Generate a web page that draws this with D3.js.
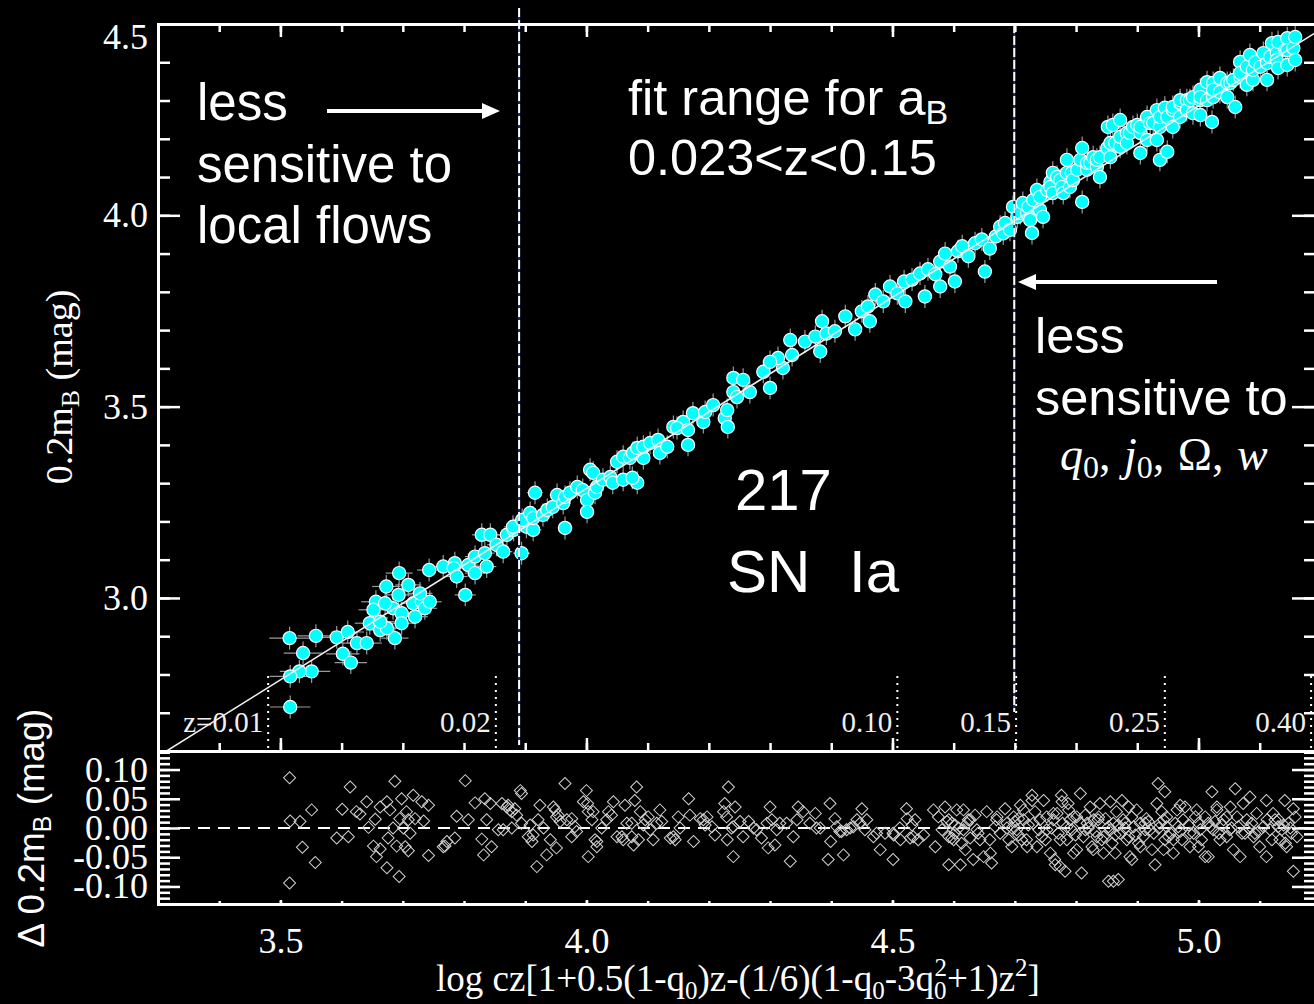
<!DOCTYPE html>
<html><head><meta charset="utf-8">
<script src="https://cdn.jsdelivr.net/npm/d3@7"></script>
<style>html,body{margin:0;padding:0;background:#000;}svg{display:block}</style>
</head><body>
<svg id="c" width="1314" height="1004"></svg>
<script>
// ---------------- DATA ----------------
const aB = 0.714;                 // intercept of fitted line 0.2mB = logcz - aB
const magErr = 0.03;              // typical error bar in 0.2 mB
const pecVel = 250;               // km/s, horizontal error for low-z objects

// Hubble diagram (top panel): [log cz, 0.2 mB]
const hubbleLowZ = [
[3.515,2.895],[3.558,2.901],[3.537,2.856],[3.551,2.808],[3.531,2.808],[3.516,2.795],[3.516,2.715],[3.592,2.897],
[3.610,2.911],[3.602,2.854],[3.615,2.831],[3.625,2.882],[3.641,2.882],[3.646,2.934],[3.656,2.990],[3.652,2.969],
[3.663,2.916],[3.673,3.030],[3.694,3.065],[3.693,3.008],[3.709,3.034],[3.684,2.973],[3.671,2.986],[3.698,2.960],
[3.698,2.934],[3.687,2.895],[3.674,2.921],[3.663,2.938],[3.717,2.986],[3.720,2.951],[3.731,2.990],[3.736,2.973],
[3.744,2.990],[3.728,3.012],[3.743,3.073],[3.766,3.082],[3.785,3.091],[3.783,3.078],[3.802,3.008],[3.788,3.056],
[3.807,3.086],[3.818,3.065],[3.818,3.108],[3.837,3.082],[3.834,3.117],[3.829,3.165],[3.843,3.165],[3.853,3.139],
[3.864,3.121],[3.870,3.165],[3.881,3.178]
];
const hubbleMidZ = [
[3.894,3.117],[3.902,3.186],[3.913,3.178],[3.880,3.186],[3.895,3.204],[3.908,3.222],[3.913,3.209],[3.916,3.275],
[3.929,3.217],[3.936,3.230],[3.945,3.238],[3.952,3.269],[3.962,3.248],[3.965,3.264],[3.965,3.183],[3.973,3.275],
[3.985,3.290],[3.994,3.282],[4.001,3.256],[4.001,3.225],[4.014,3.275],[4.017,3.290],[4.006,3.335],[4.011,3.327],
[4.027,3.309],[4.039,3.316],[4.043,3.301],[4.060,3.309],[4.083,3.301],[4.075,3.314],[4.050,3.356],[4.060,3.369],
[4.071,3.366],[4.093,3.366],[4.076,3.379],[4.083,3.392],[4.093,3.395],[4.104,3.405],[4.120,3.379],[4.117,3.413],
[4.132,3.395],[4.158,3.460],[4.142,3.447],[4.148,3.444],[4.166,3.400],[4.166,3.439],[4.174,3.483],[4.191,3.460],
[4.194,3.486],[4.207,3.504],[4.240,3.538],[4.226,3.470],[4.231,3.447],[4.230,3.491],[4.246,3.525],[4.240,3.575],
[4.256,3.570],[4.267,3.538],[4.300,3.549],[4.289,3.591],[4.321,3.601],[4.336,3.635],[4.313,3.627],[4.300,3.617],
[4.333,3.674],[4.357,3.670],[4.374,3.683],[4.385,3.723],[4.392,3.691],[4.406,3.697],[4.382,3.644],[4.423,3.736],
[4.439,3.702],[4.450,3.749],[4.460,3.762],[4.463,3.723],[4.472,3.793],[4.485,3.775],[4.496,3.814],[4.508,3.796],
[4.519,3.827],[4.521,3.775],[4.532,3.832],[4.545,3.848],[4.553,3.788],[4.558,3.859],[4.570,3.846],[4.578,3.879],
[4.578,3.814],[4.586,3.900],[4.594,3.866],[4.602,3.827],[4.607,3.906],[4.614,3.919],[4.624,3.893],[4.635,3.927],
[4.646,3.937],[4.651,3.853],[4.659,3.913],[4.669,3.945],[4.676,3.970],[4.681,3.953],[4.684,3.980],[4.692,3.962]
];
const hubbleHighZ = [
[4.697,4.022],[4.704,3.996],[4.709,4.006],[4.713,4.032],[4.720,4.006],[4.722,4.022],[4.725,3.988],[4.728,3.954],
[4.730,4.040],[4.736,4.066],[4.741,4.048],[4.741,4.014],[4.746,3.996],[4.753,4.066],[4.758,4.087],[4.758,4.074],
[4.762,4.111],[4.762,4.058],[4.769,4.100],[4.774,4.092],[4.777,4.074],[4.779,4.058],[4.785,4.145],[4.785,4.111],
[4.790,4.074],[4.793,4.111],[4.795,4.092],[4.802,4.119],[4.807,4.145],[4.810,4.176],[4.810,4.035],[4.818,4.119],
[4.818,4.137],[4.823,4.137],[4.828,4.152],[4.834,4.126],[4.834,4.145],[4.839,4.152],[4.839,4.100],[4.851,4.176],
[4.852,4.231],[4.856,4.152],[4.856,4.189],[4.860,4.236],[4.864,4.189],[4.872,4.249],[4.872,4.179],[4.872,4.205],
[4.883,4.215],[4.883,4.189],[4.888,4.215],[4.893,4.231],[4.900,4.236],[4.905,4.215],[4.905,4.163],[4.905,4.231],
[4.916,4.257],[4.916,4.197],[4.921,4.241],[4.926,4.241],[4.932,4.275],[4.932,4.197],[4.937,4.231],[4.937,4.145],
[4.937,4.257],[4.945,4.281],[4.949,4.257],[4.949,4.166],[4.958,4.275],[4.958,4.231],[4.958,4.283],[4.970,4.294],
[4.970,4.257],[4.970,4.301],[4.981,4.301],[4.981,4.275],[4.986,4.301],[4.991,4.309],[4.991,4.267],[5.003,4.328],
[5.003,4.301],[5.003,4.262],[5.003,4.309],[5.014,4.348],[5.014,4.301],[5.022,4.244],[5.024,4.346],[5.024,4.309],
[5.024,4.328],[5.035,4.359],[5.035,4.322],[5.047,4.346],[5.047,4.309],[5.052,4.346],[5.057,4.354],[5.060,4.283],
[5.068,4.401],[5.068,4.362],[5.068,4.372],[5.079,4.388],[5.079,4.341],[5.084,4.419],[5.089,4.354],[5.089,4.380],
[5.093,4.401],[5.101,4.388],[5.106,4.424],[5.112,4.354],[5.112,4.398],[5.117,4.414],[5.120,4.450],[5.128,4.424],
[5.128,4.406],[5.130,4.453],[5.130,4.385],[5.142,4.432],[5.145,4.463],[5.145,4.393],[5.145,4.432],[5.155,4.437],
[5.158,4.466],[5.158,4.406]
];

// Residual panel: log cz and Δ 0.2mB
const logcz = [
3.515,3.551,3.516,3.532,3.536,3.557,3.515,3.614,3.601,3.624,3.641,3.630,3.592,3.611,3.644,3.655,3.663,3.674,3.679,3.687,
3.698,3.717,3.731,3.742,3.706,3.720,3.734,3.695,3.709,3.684,3.701,3.712,3.676,3.690,3.704,3.709,3.652,3.663,3.657,3.674,
3.694,3.742,3.766,3.772,
3.802,3.769,3.785,3.788,3.807,3.818,3.834,3.843,3.837,3.829,3.832,3.845,3.856,3.862,3.870,3.875,3.883,3.892,3.894,3.878,
3.894,3.905,3.911,3.919,3.924,3.921,3.935,3.949,3.954,3.951,3.941,3.965,3.968,3.976,3.981,4.000,4.002,4.003,4.011,4.014,
4.017,4.025,4.036,4.044,4.050,4.060,4.063,4.074,4.077,4.082,4.079,4.088,4.096,4.104,4.109,4.120,4.123,4.137,4.145,4.150,
4.167,4.169,4.175,4.191,4.194,4.210,4.232,4.226,4.243,4.229,4.237,4.230,4.240,4.256,4.265,4.278,4.286,4.300,4.303,4.297,
4.308,4.316,4.333,4.338,4.346,4.354,4.374,4.376,4.398,4.406,4.399,4.395,4.420,4.414,4.425,4.436,4.450,4.458,4.447,4.474,
4.480,
4.523,4.501,4.501,4.512,4.529,4.537,4.542,4.567,4.586,4.570,4.581,4.592,4.597,4.602,4.611,4.616,4.619,4.627,4.632,4.640,
4.649,4.654,4.662,4.659,4.670,4.684,4.687,4.695,4.706,4.714,4.719,4.728,4.730,4.736,4.747,4.752,4.758,4.763,4.765,4.776,
4.778,4.774,4.785,4.787,4.796,4.807,4.809,4.801,4.815,4.823,4.828,4.836,4.839,4.845,4.853,4.861,4.869,4.856,4.861,4.864,
4.875,4.880,4.886,4.891,4.899,4.905,4.913,4.921,4.929,4.934,4.945,4.932,4.940,4.948,4.943,4.959,4.970,4.975,4.986,4.997,
5.000,5.011,5.022,5.016,5.030,5.035,5.046,5.051,5.060,5.068,5.073,5.079,5.084,5.092,5.100,5.111,5.111,5.122,5.130,5.133,
5.141,5.155,5.152,5.155,5.144
];
const resid = [
0.086,0.031,0.012,0.011,-0.033,-0.059,-0.094,0.070,0.032,0.028,0.045,0.024,-0.017,-0.015,0.001,0.015,0.036,0.045,0.031,0.080,
0.050,0.056,0.045,0.039,0.028,0.016,0.012,0.016,0.014,0.000,0.000,-0.009,-0.017,-0.031,-0.032,-0.039,-0.031,-0.036,-0.049,-0.068,
-0.083,-0.047,-0.032,-0.023,
0.081,-0.031,-0.017,0.020,0.014,0.043,0.050,0.042,0.014,-0.019,-0.046,-0.032,-0.003,0.042,0.036,0.031,0.033,0.064,0.059,0.000,
0.008,-0.015,-0.023,-0.066,0.039,0.014,-0.046,0.031,0.022,-0.034,-0.020,0.076,0.014,-0.015,0.002,0.064,0.042,-0.049,0.028,-0.020,
-0.032,0.000,0.028,0.045,-0.015,-0.020,0.039,0.008,-0.029,0.070,0.047,0.028,0.014,-0.003,-0.020,0.031,0.011,-0.017,-0.020,0.019,
0.050,0.022,-0.023,0.014,0.005,-0.012,0.070,0.042,0.036,0.019,0.000,-0.020,-0.049,-0.015,0.011,-0.003,-0.017,0.036,0.014,-0.034,
-0.029,0.008,-0.057,-0.015,0.036,0.028,0.025,0.000,0.042,0.016,-0.023,-0.054,-0.046,-0.006,-0.003,0.002,0.033,0.014,0.008,-0.009,
-0.037,
0.033,-0.054,-0.009,0.000,-0.017,0.014,-0.020,0.031,0.036,-0.032,-0.003,-0.063,-0.017,0.005,-0.063,0.031,-0.037,0.014,-0.054,-0.009,
-0.049,0.028,-0.060,-0.020,0.014,0.033,0.000,-0.032,0.016,0.031,-0.020,0.056,0.008,-0.032,0.047,-0.003,-0.043,0.025,-0.054,0.056,
0.008,-0.066,-0.020,0.042,0.019,0.059,-0.077,-0.037,-0.003,0.036,-0.037,0.014,0.042,-0.015,-0.091,-0.091,-0.088,0.045,0.008,-0.043,
0.047,0.008,-0.015,-0.054,0.031,-0.032,0.008,-0.003,-0.063,0.076,0.062,0.042,0.028,0.002,-0.037,-0.020,0.039,0.014,-0.009,0.031,
-0.032,-0.049,0.062,0.008,0.036,-0.020,0.019,-0.003,0.067,-0.049,0.042,0.014,0.053,-0.009,-0.032,0.047,-0.049,0.025,0.002,-0.020,
0.047,0.033,-0.009,-0.074,-0.032
];
// further residuals read from the crowded parts of the lower panel: [log cz, Δ]
const moreResid = [
[3.872,0.039],[3.878,0.028],[3.886,0.022],[3.864,-0.003],[3.908,0.005],[3.913,-0.012],[3.930,0.000],[3.946,0.036],
[3.951,0.019],[3.957,0.011],[3.976,0.016],[3.984,-0.006],[3.995,0.045],[4.003,0.028],[4.009,0.014],[4.017,-0.023],
[4.033,0.014],[4.041,0.022],[4.058,-0.015],[4.066,0.008],[4.074,-0.015],[4.085,-0.020],[4.093,0.005],[4.101,0.019],
[4.115,0.008],[4.142,-0.015],[4.153,0.000],[4.186,0.016],[4.197,0.019],[4.205,0.002],[4.224,0.028],[4.240,0.002],
[4.251,0.011],[4.273,0.000],[4.295,0.008],[4.311,-0.003],[4.327,0.008],[4.344,0.014],[4.365,0.008],[4.382,0.000],
[4.409,0.002],[4.417,-0.006],[4.431,0.000],[4.442,0.014],[4.455,-0.003],[4.469,-0.015],[4.488,-0.009],
[4.502,-0.012],[4.513,-0.020],[4.524,0.016],[4.532,0.005],[4.534,-0.015],[4.551,-0.012],
[4.575,0.019],[4.589,0.011],[4.592,-0.015],[4.597,0.008],[4.600,-0.020],[4.605,0.031],[4.608,0.000],[4.613,-0.026],
[4.622,0.008],[4.627,-0.017],[4.635,0.022],[4.638,-0.003],[4.643,-0.020],
[4.660,-0.043],[4.668,0.002],[4.671,0.019],[4.676,-0.009],[4.687,0.008],[4.690,-0.020],[4.698,0.019],[4.703,-0.003],
[4.709,0.039],[4.711,-0.020],[4.714,0.014],[4.720,-0.032],[4.728,0.047],[4.733,0.028],[4.741,0.014],[4.750,-0.020],[4.752,0.019],
[4.760,0.000],[4.766,-0.063],[4.769,0.025],[4.777,0.045],[4.782,-0.074],[4.788,0.031],[4.793,-0.003],[4.796,-0.043],
[4.801,0.019],[4.812,-0.015],[4.818,0.008],[4.826,-0.032],[4.831,-0.006],[4.837,0.019],[4.842,-0.020],[4.845,-0.043],
[4.853,0.002],[4.859,-0.026],
[4.866,0.028],[4.872,-0.009],[4.877,0.014],[4.883,-0.020],[4.886,0.036],[4.888,-0.049],[4.894,0.002],[4.902,-0.026],
[4.905,0.008],[4.910,-0.015],[4.915,0.016],[4.924,-0.037],[4.937,0.008],[4.945,-0.020],[4.948,0.019],[4.954,-0.009],
[4.959,-0.043],[4.965,0.031],[4.967,0.002],
[4.973,-0.020],[4.978,0.036],[4.986,-0.032],[4.992,-0.009],[5.000,0.008],[5.005,-0.020],[5.011,0.019],[5.016,-0.049],
[5.024,-0.003],[5.030,0.031],[5.041,0.014],[5.046,-0.015],[5.052,0.036],[5.057,-0.037],[5.065,0.002],[5.076,-0.009],
[5.090,-0.015],[5.095,0.025],[5.106,0.002],[5.120,-0.020],[5.125,0.014],[5.136,-0.003],[5.142,-0.026],[5.147,0.008],[5.161,-0.015],
[4.592,0.014],[4.602,-0.009],[4.616,-0.003],[4.624,0.014],[4.695,0.000],[4.700,0.011],[4.706,-0.012],[4.722,0.005],
[4.739,-0.003],[4.744,-0.015],[4.763,0.014],[4.771,-0.009],[4.774,-0.020],[4.785,0.002],[4.790,0.014],[4.799,-0.012],
[4.807,0.008],[4.815,0.022],[4.820,0.000],[4.829,0.014],[4.834,-0.015],[4.848,0.016],[4.856,-0.003],[4.864,-0.012],
[4.869,0.005],[4.880,0.000],[4.891,0.019],[4.897,-0.012],[4.913,-0.003],[4.918,0.011],[4.927,-0.009],[4.935,0.000],
[4.943,0.014],[4.951,-0.015],[4.962,0.008],[4.970,-0.006],[4.984,0.005],[4.995,0.019],[5.003,-0.003],[5.019,0.002],
[5.027,0.011],[5.033,-0.009],[5.038,0.005],[5.054,0.000],[5.063,0.019],[5.071,-0.009],[5.082,0.000],[5.087,0.008],
[5.098,-0.006],[5.112,0.014],[5.117,-0.003],[5.131,0.014],[5.139,0.005],[5.150,0.000],[5.158,0.019]
];
const zLabels = ["z=0.01","0.02","0.10","0.15","0.25","0.40"];
const zLabelX = [3.480,3.852,4.508,4.702,4.945,5.184];
const fitRange = [3.890,4.699];   // z = 0.023 and z = 0.15
const xMajor = [3.5,4.0,4.5,5.0];
const yMajor = [3.0,3.5,4.0,4.5];
const rMajor = [-0.10,-0.05,0.00,0.05,0.10];

// ---------------- SETUP ----------------
const W=1314,H=1004;
const serif="'Liberation Serif','Times New Roman',serif";
const sans="'Liberation Sans',Arial,sans-serif";
const svg=d3.select('#c');
svg.append('rect').attr('width',W).attr('height',H).attr('fill','#000');

const x=d3.scaleLinear().domain([3.3,5.192]).range([158,1316]);
const y=d3.scaleLinear().domain([2.6,4.5]).range([751,24]);
const yr=d3.scaleLinear().domain([-0.13,0.13]).range([904,752]);

const hub=hubbleLowZ.concat(hubbleMidZ,hubbleHighZ).map(p=>({x:p[0],m:p[1]}));
const res=logcz.map((v,i)=>({x:v,r:resid[i]})).concat(moreResid.map(p=>({x:p[0],r:p[1]})));

// ---------------- MAIN PANEL ----------------
svg.append('clipPath').attr('id','cm').append('rect').attr('x',158).attr('y',24).attr('width',1158).attr('height',727);
svg.append('clipPath').attr('id','cr').append('rect').attr('x',158).attr('y',752).attr('width',1158).attr('height',152);
const gm=svg.append('g').attr('clip-path','url(#cm)');

gm.selectAll('line.ey').data(hub).join('line').attr('class','ey')
  .attr('x1',d=>x(d.x)).attr('x2',d=>x(d.x))
  .attr('y1',d=>y(d.m+magErr)).attr('y2',d=>y(d.m-magErr))
  .attr('stroke','#9a9a9a').attr('stroke-width',1.2);
gm.selectAll('line.ex').data(hub).join('line').attr('class','ex')
  .attr('x1',d=>x(d.x-0.4343*pecVel/Math.pow(10,d.x))).attr('x2',d=>x(d.x+0.4343*pecVel/Math.pow(10,d.x)))
  .attr('y1',d=>y(d.m)).attr('y2',d=>y(d.m))
  .attr('stroke','#9a9a9a').attr('stroke-width',1.2);
gm.selectAll('circle').data(hub).join('circle')
  .attr('cx',d=>x(d.x)).attr('cy',d=>y(d.m)).attr('r',6.6)
  .attr('fill','#00ffff').attr('stroke','#f2ffff').attr('stroke-width',1.2);
gm.append('line').attr('x1',x(3.3)).attr('y1',y(3.3-aB)).attr('x2',x(5.192)).attr('y2',y(5.192-aB))
  .attr('stroke','#f0f0f0').attr('stroke-width',1.6);

zLabelX.forEach((v,i)=>{
  svg.append('line').attr('x1',x(v)).attr('x2',x(v)).attr('y1',676).attr('y2',750)
    .attr('stroke','#fff').attr('stroke-width',2).attr('stroke-dasharray','2,5');
  svg.append('text').attr('x',x(v)-5).attr('y',732).attr('text-anchor','end')
    .attr('font-family',serif).attr('font-size',29).attr('fill','#f0f0f0').text(zLabels[i]);
});
[[fitRange[0],8,745],[fitRange[1],24,712]].forEach(([v,a,b])=>{
  svg.append('line').attr('x1',x(v)).attr('x2',x(v)).attr('y1',a).attr('y2',b)
    .attr('stroke','#1c2f78').attr('stroke-width',2);
  svg.append('line').attr('x1',x(v)).attr('x2',x(v)).attr('y1',a).attr('y2',b)
    .attr('stroke','#fff').attr('stroke-width',2).attr('stroke-dasharray','9,3');
});

// ---------------- RESIDUAL PANEL ----------------
const gr=svg.append('g').attr('clip-path','url(#cr)');
gr.append('line').attr('x1',158).attr('x2',1316).attr('y1',yr(0)).attr('y2',yr(0))
  .attr('stroke','#fff').attr('stroke-width',2).attr('stroke-dasharray','12,8');
gr.selectAll('path.dia').data(res).join('path').attr('class','dia')
  .attr('d',d3.symbol(d3.symbolSquare,72)())
  .attr('transform',d=>`translate(${x(d.x)},${yr(d.r)}) rotate(45)`)
  .attr('fill','none').attr('stroke','#d0d0d0').attr('stroke-width',1);

// ---------------- AXES ----------------
function styleAxis(g){
  g.selectAll('.domain').attr('stroke','#fff').attr('stroke-width',3);
  g.selectAll('.tick line').attr('stroke','#fff').attr('stroke-width',2.5);
  g.selectAll('text').attr('fill','#fff').attr('font-family',serif).attr('font-size',36);
  g.attr('font-family',null).attr('font-size',null);
}
const noLab=()=>'';
const xMinor=d3.range(33,52).map(v=>v/10);
const yMinor=d3.range(26,46).map(v=>v/10);
const rMinor=d3.range(-12,13).map(v=>v/100);
svg.append('g').attr('transform','translate(158,0)').call(d3.axisLeft(y).tickValues(yMinor).tickSize(-12).tickFormat(noLab)).call(styleAxis);
const yl=svg.append('g').attr('transform','translate(158,0)').call(d3.axisLeft(y).tickValues(yMajor).tickSizeInner(-22).tickSizeOuter(0).tickPadding(10).tickFormat(d3.format('.1f'))).call(styleAxis);
yl.selectAll('.tick text').filter(d=>d===4.5).attr('dy','0.68em');
svg.append('g').attr('transform','translate(1316,0)').call(d3.axisRight(y).tickValues(yMinor).tickSize(-12).tickFormat(noLab)).call(styleAxis);
svg.append('g').attr('transform','translate(1316,0)').call(d3.axisRight(y).tickValues(yMajor).tickSizeInner(-24).tickSizeOuter(0).tickFormat(noLab)).call(styleAxis);
svg.append('g').attr('transform','translate(0,24)').call(d3.axisTop(x).tickValues(xMinor).tickSize(-8).tickFormat(noLab)).call(styleAxis);
svg.append('g').attr('transform','translate(0,24)').call(d3.axisTop(x).tickValues(xMajor).tickSizeInner(-13).tickSizeOuter(0).tickFormat(noLab)).call(styleAxis);
svg.append('g').attr('transform','translate(0,751)').call(d3.axisBottom(x).tickValues(xMinor).tickSize(-8).tickFormat(noLab)).call(styleAxis);
svg.append('g').attr('transform','translate(0,751)').call(d3.axisBottom(x).tickValues(xMajor).tickSizeInner(-13).tickSizeOuter(0).tickFormat(noLab)).call(styleAxis);
svg.append('g').attr('transform','translate(158,0)').call(d3.axisLeft(yr).tickValues(rMinor).tickSize(-12).tickFormat(noLab)).call(styleAxis);
svg.append('g').attr('transform','translate(158,0)').call(d3.axisLeft(yr).tickValues(rMajor).tickSizeInner(-22).tickSizeOuter(0).tickPadding(10).tickFormat(d=>(Math.abs(d)<1e-9?0:d).toFixed(2))).call(styleAxis);
svg.append('g').attr('transform','translate(1316,0)').call(d3.axisRight(yr).tickValues(rMinor).tickSize(-12).tickFormat(noLab)).call(styleAxis);
svg.append('g').attr('transform','translate(1316,0)').call(d3.axisRight(yr).tickValues(rMajor).tickSizeInner(-24).tickSizeOuter(0).tickFormat(noLab)).call(styleAxis);
svg.append('g').attr('transform','translate(0,904)').call(d3.axisBottom(x).tickValues(xMinor).tickSize(-3).tickFormat(noLab)).call(styleAxis);
svg.append('g').attr('transform','translate(0,904)').call(d3.axisBottom(x).tickValues(xMajor).tickSizeInner(-4).tickSizeOuter(0).tickPadding(23).tickFormat(d3.format('.1f'))).call(styleAxis);

// ---------------- TITLES ----------------
const xt=svg.append('text').attr('x',738).attr('y',991).attr('text-anchor','middle')
  .attr('font-family',serif).attr('font-size',37).attr('fill','#fff');
xt.append('tspan').text('log cz[1+0.5(1-q');
xt.append('tspan').attr('dy',8).attr('font-size',25).text('0');
xt.append('tspan').attr('dy',-8).text(')z-(1/6)(1-q');
xt.append('tspan').attr('dy',8).attr('font-size',25).text('0');
xt.append('tspan').attr('dy',-8).text('-3q');
xt.append('tspan').attr('dy',8).attr('font-size',25).text('0');
xt.append('tspan').attr('dy',-23).attr('dx',-12).attr('font-size',25).text('2');
xt.append('tspan').attr('dy',15).text('+1)z');
xt.append('tspan').attr('dy',-15).attr('font-size',25).text('2');
xt.append('tspan').attr('dy',15).text(']');

const yt=svg.append('text').attr('transform','translate(72,387) rotate(-90)').attr('text-anchor','middle')
  .attr('font-family',serif).attr('font-size',38).attr('fill','#fff');
yt.append('tspan').text('0.2m');
yt.append('tspan').attr('dy',7).attr('font-size',26).text('B');
yt.append('tspan').attr('dy',-7).text(' (mag)');

const rt=svg.append('text').attr('transform','translate(44,828) rotate(-90)').attr('text-anchor','middle')
  .attr('font-family',sans).attr('font-size',37).attr('fill','#fff');
rt.append('tspan').text('Δ 0.2m');
rt.append('tspan').attr('dy',7).attr('font-size',25).text('B');
rt.append('tspan').attr('dy',-7).text(' (mag)');

// ---------------- ANNOTATIONS ----------------
function txt(xp,yp,s,size){
  return svg.append('text').attr('x',xp).attr('y',yp).attr('font-family',sans).attr('font-size',size||51).attr('fill','#fff').text(s);
}
txt(197,120,'less'); txt(197,182,'sensitive to'); txt(197,243,'local flows');
const fr=svg.append('text').attr('x',628).attr('y',115).attr('font-family',sans).attr('font-size',50.5).attr('fill','#fff');
fr.append('tspan').text('fit range for a');
fr.append('tspan').attr('dy',9).attr('font-size',34).text('B');
txt(628,175,'0.023<z<0.15',50.5);
txt(1035,353,'less',50.5); txt(1035,415,'sensitive to',50.5);
const mq=svg.append('text').attr('x',1060).attr('y',470).attr('font-family',"'Liberation Serif',serif").attr('font-size',46).attr('fill','#fff').attr('word-spacing',2);
mq.append('tspan').attr('font-style','italic').text('q');
mq.append('tspan').attr('dy',8).attr('font-size',32).text('0');
mq.append('tspan').attr('dy',-8).text(', ');
mq.append('tspan').attr('font-style','italic').text('j');
mq.append('tspan').attr('dy',8).attr('font-size',32).text('0');
mq.append('tspan').attr('dy',-8).text(', Ω, ');
mq.append('tspan').attr('font-style','italic').text('w');
txt(735,510,'217',58);
txt(727,592,'SN Ia',60).attr('word-spacing',22);

function arrow(x1,x2,yy){
  const dir=Math.sign(x2-x1);
  svg.append('line').attr('x1',x1).attr('x2',x2-dir*16).attr('y1',yy).attr('y2',yy).attr('stroke','#fff').attr('stroke-width',4);
  svg.append('path').attr('d',`M${x2},${yy} L${x2-dir*18},${yy-8} L${x2-dir*18},${yy+8} Z`).attr('fill','#fff');
}
arrow(327,500,111);
arrow(1217,1018,282);
</script>
</body></html>
